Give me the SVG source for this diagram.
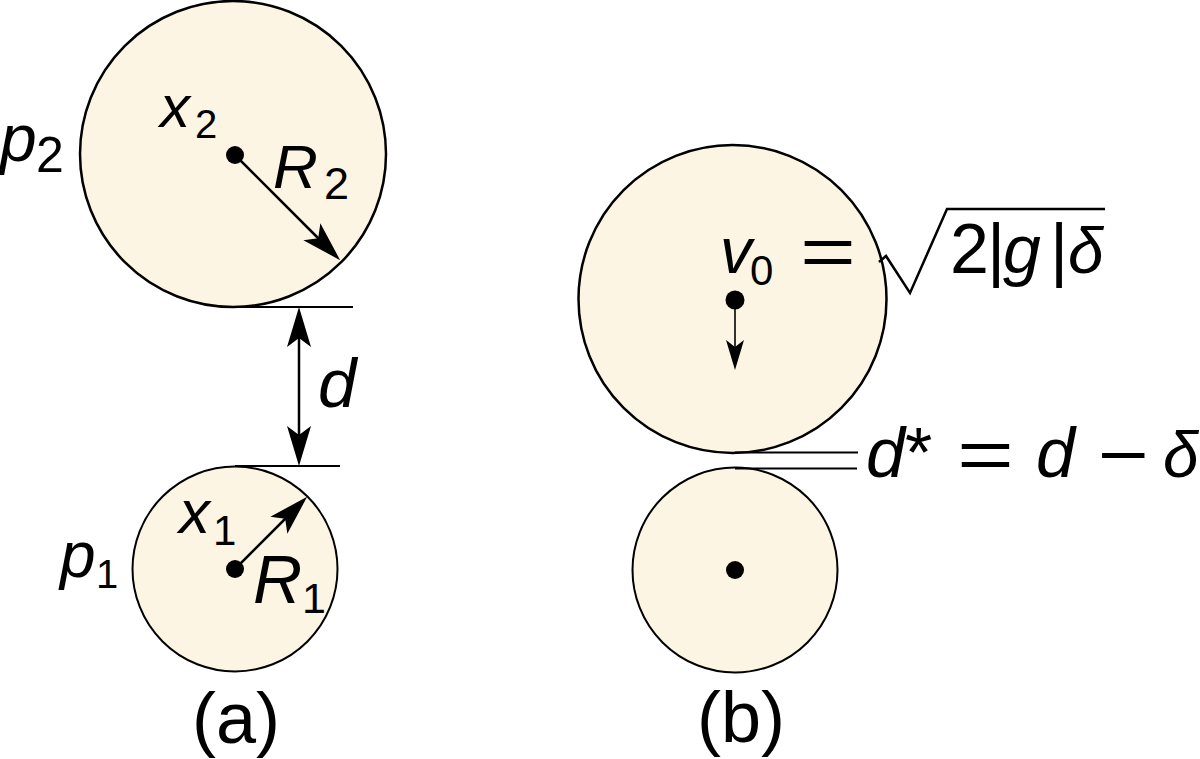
<svg xmlns="http://www.w3.org/2000/svg" width="1200" height="759" viewBox="0 0 1200 759">
<style>
.disk{fill:#FCF5E3;stroke:#000;}
.dot{fill:#000;}
.ln{stroke:#000;fill:none;}
text{font-family:"Liberation Sans",Arial,sans-serif;fill:#000;}
.it{font-style:italic;}
</style>
<defs>
<marker id="big" markerUnits="userSpaceOnUse" viewBox="-22 -13 44 26" refX="0" refY="0" markerWidth="44" markerHeight="26" orient="auto-start-reverse">
<path d="M20,0 L-20,-12 L-11,0 L-20,12 Z" fill="#000"/>
</marker>
<marker id="small" markerUnits="userSpaceOnUse" viewBox="-16 -10 32 20" refX="0" refY="0" markerWidth="32" markerHeight="20" orient="auto">
<path d="M15,0 L-15,-9 L-8,0 L-15,9 Z" fill="#000"/>
</marker>
</defs>
<rect width="1200" height="759" fill="#fff"/>

<g id="p2-node">
<circle class="disk" cx="233" cy="154" r="153" stroke-width="2.5"/>
<circle class="dot" cx="235" cy="155" r="9"/>
<text class="it" x="0" y="161" font-size="66">p</text>
<text x="36" y="172" font-size="50">2</text>
<text class="it" x="160" y="127" font-size="60">x</text>
<text x="195" y="138" font-size="40">2</text>
<text class="it" x="273" y="188" font-size="62">R</text>
<text x="324" y="199" font-size="45">2</text>
</g>

<g id="p1-node">
<circle class="disk" cx="235" cy="569" r="102.5" stroke-width="2"/>
<circle class="dot" cx="235" cy="569" r="9"/>
<text class="it" x="60" y="577" font-size="64">p</text>
<text x="96" y="588" font-size="40">1</text>
<text class="it" x="179" y="533" font-size="62">x</text>
<text x="213" y="545" font-size="42">1</text>
<text class="it" x="253" y="603" font-size="68">R</text>
<text x="302" y="613" font-size="43">1</text>
</g>

<g id="b-top-node">
<circle class="disk" cx="732.5" cy="299" r="154" stroke-width="2.5"/>
<circle class="dot" cx="735" cy="300" r="9.5"/>
<text class="it" x="720" y="273" font-size="64">v</text>
<text x="750" y="285" font-size="42">0</text>
<text x="800" y="276" font-size="70" textLength="56" lengthAdjust="spacingAndGlyphs">=</text>
<polyline class="ln" stroke-width="2.5" stroke-linejoin="miter" points="879,262 886,256 910,293 947,209 1105,209"/>
<text x="950" y="273" font-size="70">2</text>
<text x="987" y="273" font-size="70">|</text>
<text class="it" x="1003" y="273" font-size="68">g</text>
<text x="1050" y="273" font-size="70">|</text>
<text class="it" x="1068" y="273" font-size="64">δ</text>
</g>

<g id="b-bottom-node">
<circle class="disk" cx="735" cy="570" r="102.5" stroke-width="2"/>
<circle class="dot" cx="735" cy="570" r="9"/>
</g>

<g id="connectors">
<line class="ln" x1="233" y1="307" x2="353" y2="307" stroke-width="2"/>
<line class="ln" x1="235" y1="466" x2="340" y2="466" stroke-width="2"/>
<line class="ln" x1="299" y1="327" x2="299" y2="446" stroke-width="2.5" marker-start="url(#big)" marker-end="url(#big)"/>
<line class="ln" x1="235" y1="155" x2="326" y2="246" stroke-width="2.5" marker-end="url(#big)"/>
<line class="ln" x1="235" y1="569" x2="293" y2="511" stroke-width="2.5" marker-end="url(#big)"/>
<line class="ln" x1="735" y1="300" x2="735" y2="355" stroke-width="1.6" marker-end="url(#small)"/>
<line class="ln" x1="735" y1="452.5" x2="858" y2="452.5" stroke-width="1.8"/>
<line class="ln" x1="735" y1="468.5" x2="857" y2="468.5" stroke-width="1.8"/>
</g>

<g id="labels">
<text class="it" x="318" y="407" font-size="69">d</text>
<text x="236" y="743" font-size="72" text-anchor="middle">(a)</text>
<text x="741" y="742" font-size="72" text-anchor="middle">(b)</text>
<text class="it" x="866" y="477" font-size="70">d</text>
<text x="905" y="477" font-size="70">*</text>
<text x="957" y="479" font-size="70" textLength="57" lengthAdjust="spacingAndGlyphs">=</text>
<text class="it" x="1036" y="477" font-size="70">d</text>
<text x="1098" y="479" font-size="70" textLength="51" lengthAdjust="spacingAndGlyphs">−</text>
<text class="it" x="1163" y="477" font-size="64">δ</text>
</g>
</svg>
